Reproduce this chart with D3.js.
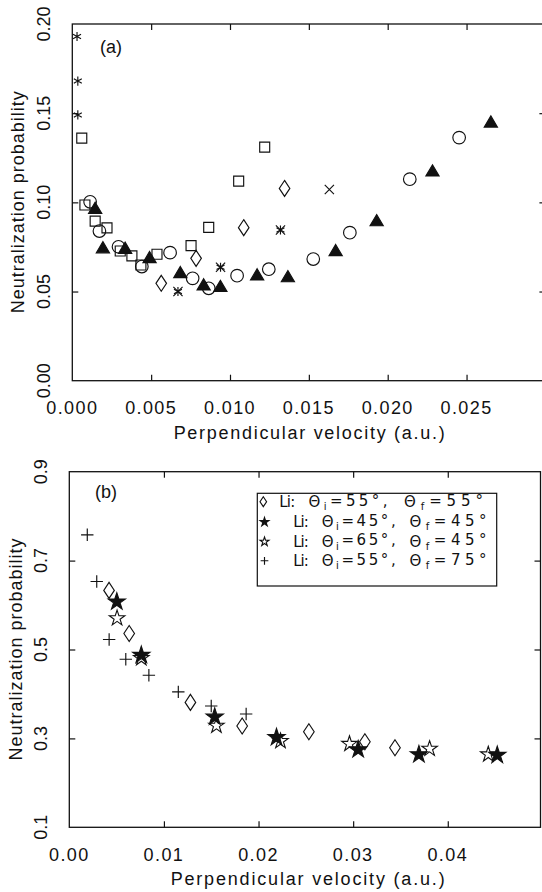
<!DOCTYPE html>
<html>
<head>
<meta charset="utf-8">
<script src="https://cdn.jsdelivr.net/npm/d3@7"></script>
<style>
  html, body { margin: 0; padding: 0; background: #fff; }
  svg { display: block; }
  text { font-family: "Liberation Sans", Arial, sans-serif; fill: #111; }
  text.leg { font-family: "DejaVu Sans", "Liberation Sans", sans-serif; }
</style>
</head>
<body>
<svg id="chart" width="542" height="892"></svg>
<script>
// ---------------- DATA: panel (a) ----------------
const aXTicks = [0.000, 0.005, 0.010, 0.015, 0.020, 0.025];
const aYTicks = [0.00, 0.05, 0.10, 0.15, 0.20];
const aAsteriskX = [0.0003, 0.00035, 0.00035, 0.0067, 0.0094, 0.0132];
const aAsteriskY = [0.193, 0.168, 0.149, 0.050, 0.0636, 0.0845];
const aCrossX = [0.0067, 0.0094, 0.0132, 0.0163];
const aCrossY = [0.050, 0.0636, 0.0845, 0.1072];
const aSquareX = [0.0006, 0.0008, 0.00145, 0.0022, 0.00304, 0.00378, 0.00435, 0.00537, 0.00753, 0.00865, 0.01055, 0.0122];
const aSquareY = [0.136, 0.0985, 0.0895, 0.0857, 0.0727, 0.0700, 0.0649, 0.0709, 0.0757, 0.0860, 0.1119, 0.1310];
const aCircleX = [0.00113, 0.00172, 0.00293, 0.00441, 0.0062, 0.00763, 0.00865, 0.01045, 0.01246, 0.01528, 0.0176, 0.0214, 0.02453];
const aCircleY = [0.1003, 0.0839, 0.0751, 0.0640, 0.0718, 0.0574, 0.0518, 0.0589, 0.0625, 0.0682, 0.0830, 0.1130, 0.1363];
const aTriangleX = [0.00145, 0.00194, 0.00335, 0.0049, 0.00685, 0.00833, 0.00939, 0.01172, 0.01367, 0.0167, 0.0193, 0.02284, 0.02654];
const aTriangleY = [0.0966, 0.0745, 0.0742, 0.0690, 0.0606, 0.0537, 0.0528, 0.0593, 0.0583, 0.0729, 0.0897, 0.1176, 0.1450];
const aDiamondX = [0.00564, 0.00785, 0.01087, 0.01346];
const aDiamondY = [0.0546, 0.0686, 0.0858, 0.1078];

// ---------------- DATA: panel (b) ----------------
const bXTicks = [0.00, 0.01, 0.02, 0.03, 0.04];
const bYTicks = [0.1, 0.3, 0.5, 0.7, 0.9];
const bDiamondX = [0.0042, 0.00633, 0.0128, 0.01827, 0.02532, 0.03124, 0.03442];
const bDiamondY = [0.633, 0.536, 0.381, 0.328, 0.315, 0.2925, 0.279];
const bStarFilledX = [0.00502, 0.00761, 0.01537, 0.0219, 0.03053, 0.03695, 0.04523];
const bStarFilledY = [0.610, 0.490, 0.351, 0.305, 0.2777, 0.2664, 0.2649];
const bStarOpenX = [0.00505, 0.00761, 0.01555, 0.02232, 0.02961, 0.03808, 0.04428];
const bStarOpenY = [0.5726, 0.483, 0.331, 0.2964, 0.290, 0.279, 0.2665];
const bPlusX = [0.0019, 0.0029, 0.00421, 0.00597, 0.00841, 0.01152, 0.0150, 0.01869];
const bPlusY = [0.758, 0.653, 0.5226, 0.478, 0.442, 0.4046, 0.373, 0.355];
const legendAngles = [["55", "55"], ["45", "45"], ["65", "45"], ["55", "75"]];
const legendShapes = ["diamond", "starFilled", "starOpen", "plus"];

const xTitle = "Perpendicular velocity (a.u.)";
const yTitle = "Neutralization probability";

// ---------------- DRAWING ----------------
const svg = d3.select("#chart");
const ink = "#111";

function zip(xs, ys) { return xs.map((x, i) => [x, ys[i]]); }

function markerPath(shape, s) {
  const p = d3.path();
  switch (shape) {
    case "square": p.rect(-5 * s, -5 * s, 10 * s, 10 * s); break;
    case "triangle": p.moveTo(0, -6.2 * s); p.lineTo(6.6 * s, 5 * s); p.lineTo(-6.6 * s, 5 * s); p.closePath(); break;
    case "diamond": p.moveTo(0, -8 * s); p.lineTo(5.3 * s, 0); p.lineTo(0, 8 * s); p.lineTo(-5.3 * s, 0); p.closePath(); break;
    case "cross": { const r = 4.6 * s; p.moveTo(-r, -r); p.lineTo(r, r); p.moveTo(-r, r); p.lineTo(r, -r); break; }
    case "plus": { const r = 6.2 * s; p.moveTo(-r, 0); p.lineTo(r, 0); p.moveTo(0, -r); p.lineTo(0, r); break; }
    case "asterisk": {
      const r = 4.6 * s;
      [90, 30, 150].forEach(a => {
        const t = a * Math.PI / 180;
        p.moveTo(-r * Math.cos(t), -r * Math.sin(t)); p.lineTo(r * Math.cos(t), r * Math.sin(t));
      });
      break;
    }
    case "circle": p.arc(0, 0, 6.3 * s, 0, 2 * Math.PI); break;
  }
  return p.toString();
}

function drawMarkers(g, pts, shape, xs, ys, s = 1) {
  const sel = g.append("g").selectAll("path").data(pts).join("path")
    .attr("transform", d => `translate(${xs(d[0])},${ys(d[1])})`);
  if (shape === "starFilled" || shape === "starOpen") {
    sel.attr("d", d3.symbol(d3.symbolStar, 64 * s * s)())
      .attr("transform", d => `translate(${xs(d[0])},${ys(d[1]) + 1 * s})`)
      .attr("fill", shape === "starFilled" ? ink : "#fff")
      .attr("stroke", ink).attr("stroke-width", 1.1).attr("stroke-linejoin", "miter");
  } else {
    sel.attr("d", markerPath(shape, s))
      .attr("fill", shape === "triangle" ? ink : "none")
      .attr("stroke", ink).attr("stroke-width", 1.15);
  }
}

function frame(g, xs, ys, xTickVals, yTickVals) {
  const [x0, x1] = xs.range(), [y0, y1] = ys.range();
  g.append("rect").attr("x", x0).attr("y", y1).attr("width", x1 - x0).attr("height", y0 - y1)
    .attr("fill", "none").attr("stroke", ink).attr("stroke-width", 1.3);
  const styleAxis = a => { a.select(".domain").remove(); a.selectAll("line").attr("stroke", ink).attr("stroke-width", 1.2); a.selectAll("text").remove(); };
  g.append("g").attr("transform", `translate(0,${y0})`).call(d3.axisBottom(xs).tickValues(xTickVals).tickSizeInner(-6).tickSizeOuter(0)).call(styleAxis);
  g.append("g").attr("transform", `translate(0,${y1})`).call(d3.axisTop(xs).tickValues(xTickVals).tickSizeInner(-6).tickSizeOuter(0)).call(styleAxis);
  g.append("g").attr("transform", `translate(${x0},0)`).call(d3.axisLeft(ys).tickValues(yTickVals).tickSizeInner(-6).tickSizeOuter(0)).call(styleAxis);
  g.append("g").attr("transform", `translate(${x1},0)`).call(d3.axisRight(ys).tickValues(yTickVals).tickSizeInner(-6).tickSizeOuter(0)).call(styleAxis);
}

function labels(g, xs, ys, xTickVals, xFmt, yTickVals, yFmt, xLabY, yLabX, titleY, titleLen, yTitleX) {
  const [x0, x1] = xs.range(), [y0, y1] = ys.range();
  g.append("g").selectAll("text").data(xTickVals).join("text")
    .attr("x", d => xs(d)).attr("y", xLabY).attr("dy", "0.36em")
    .attr("text-anchor", "middle").attr("font-size", 18).attr("letter-spacing", 1.4)
    .text(d => d3.format(xFmt)(d));
  g.append("g").selectAll("text").data(yTickVals).join("text")
    .attr("transform", d => `translate(${yLabX},${ys(d)}) rotate(-90)`)
    .attr("dy", "0.36em").attr("text-anchor", "middle").attr("font-size", 18)
    .text(d => d3.format(yFmt)(d));
  g.append("text").attr("x", (x0 + 545) / 2 + 0.5).attr("y", titleY).attr("dy", "0.36em")
    .attr("text-anchor", "middle").attr("font-size", 18)
    .attr("textLength", titleLen).attr("lengthAdjust", "spacing").text(xTitle);
  g.append("text").attr("transform", `translate(${yTitleX},${(y0 + y1) / 2}) rotate(-90)`)
    .attr("dy", "0.36em").attr("text-anchor", "middle").attr("font-size", 18)
    .attr("textLength", 222).attr("lengthAdjust", "spacing").text(yTitle);
}

// ----- panel (a)
const xA = d3.scaleLinear().domain([0, 0.030]).range([72.3, 545.4]);
const yA = d3.scaleLinear().domain([0, 0.20]).range([380.7, 24]);
const gA = svg.append("g");
frame(gA, xA, yA, aXTicks.slice(1), aYTicks.slice(1, -1));
labels(gA, xA, yA, aXTicks, ".3f", aYTicks, ".2f", 408, 44, 433, 271, 18);
gA.append("text").attr("x", 111).attr("y", 47).attr("dy", "0.36em").attr("text-anchor", "middle")
  .attr("font-size", 18).text("(a)");
drawMarkers(gA, zip(aSquareX, aSquareY), "square", xA, yA);
drawMarkers(gA, zip(aCircleX, aCircleY), "circle", xA, yA);
drawMarkers(gA, zip(aDiamondX, aDiamondY), "diamond", xA, yA);
drawMarkers(gA, zip(aTriangleX, aTriangleY), "triangle", xA, yA);
drawMarkers(gA, zip(aAsteriskX, aAsteriskY), "asterisk", xA, yA);
drawMarkers(gA, zip(aCrossX, aCrossY), "cross", xA, yA);

// ----- panel (b)
const xB = d3.scaleLinear().domain([0, 0.0498]).range([69.3, 540.5]);
const yB = d3.scaleLinear().domain([0.1, 0.9]).range([827.3, 471.7]);
const gB = svg.append("g");
frame(gB, xB, yB, bXTicks.slice(1), bYTicks.slice(1, -1));
labels(gB, xB, yB, bXTicks, ".2f", bYTicks, ".1f", 855, 41, 878.5, 274, 16);
gB.append("text").attr("x", 106).attr("y", 492).attr("dy", "0.36em").attr("text-anchor", "middle")
  .attr("font-size", 18).text("(b)");
drawMarkers(gB, zip(bPlusX, bPlusY), "plus", xB, yB);
drawMarkers(gB, zip(bDiamondX, bDiamondY), "diamond", xB, yB, 1.0);
drawMarkers(gB, zip(bStarOpenX, bStarOpenY), "starOpen", xB, yB, 1.08);
drawMarkers(gB, zip(bStarFilledX, bStarFilledY), "starFilled", xB, yB, 1.2);

// legend
const leg = gB.append("g");
leg.append("rect").attr("x", 257.3).attr("y", 493.3).attr("width", 239.4).attr("height", 92.7)
  .attr("fill", "#fff").attr("stroke", ink).attr("stroke-width", 1.2);
const rowY = i => 501.7 + i * 19.7;
// chunk layout: [Li: x, width], [theta_i chunk x, width], [theta_f chunk x, width]
const chunkLayout = i => i === 0
  ? [[279.3, 16], [308.5, 79], [404, 79]]
  : [[293.3, 15.5], [321.7, 74], [409.5, 77]];
legendShapes.forEach((shape, i) => {
  drawMarkers(leg, [[0, 0]], shape,
    d3.scaleLinear().domain([0, 1]).range([i === 0 ? 263.3 : 264.5, 300]),
    d3.scaleLinear().domain([0, 1]).range([rowY(i), rowY(i) + 10]), 0.62);
  const L = chunkLayout(i);
  const base = () => leg.append("text").attr("class", "leg").attr("y", rowY(i)).attr("dy", "0.36em")
    .attr("font-size", 15).attr("lengthAdjust", "spacing");
  base().attr("x", L[0][0]).attr("textLength", L[0][1]).text("Li:");
  const t1 = base().attr("x", L[1][0]).attr("textLength", L[1][1]);
  t1.append("tspan").text("\u0398");
  t1.append("tspan").attr("font-size", 10).attr("dy", "0.3em").text("i");
  t1.append("tspan").attr("dy", "-0.28em").text("=" + legendAngles[i][0] + "\u00b0,");
  const t2 = base().attr("x", L[2][0]).attr("textLength", L[2][1]);
  t2.append("tspan").text("\u0398");
  t2.append("tspan").attr("font-size", 10).attr("dy", "0.3em").text("f");
  t2.append("tspan").attr("dy", "-0.28em").text("=" + legendAngles[i][1] + "\u00b0");
});
</script>
</body>
</html>
